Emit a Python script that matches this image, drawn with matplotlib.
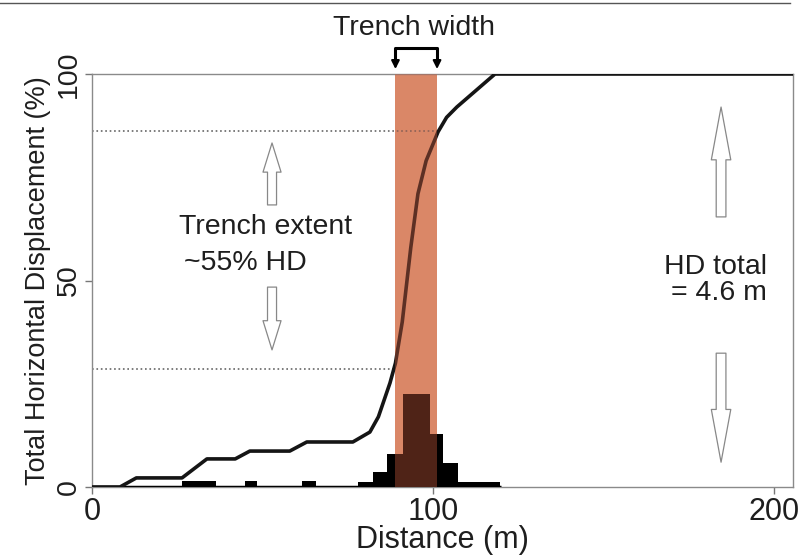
import matplotlib
matplotlib.use('Agg')
import matplotlib.pyplot as plt
from matplotlib.patches import FancyArrowPatch, ArrowStyle
from matplotlib.lines import Line2D

plt.rcParams['font.family'] = ['Liberation Sans', 'DejaVu Sans']

# cumulative horizontal displacement along the profile
dist = [0, 8.2, 13, 26.4, 33.7, 42, 46.3, 58, 63, 76.5, 81.5, 84, 87.4, 89,
        91, 93.5, 95.6, 98, 101.5, 104, 107, 118.2, 205.6]
cum_hd = [0, 0, 2.2, 2.2, 6.8, 6.8, 8.7, 8.7, 10.9, 10.9, 13.3, 17, 25.2, 30,
          40, 58, 71, 79, 86, 89.5, 92, 100, 100]

# displacement histogram (bin left edge, width, height)
bin_left = [26.5, 44.8, 61.6, 78, 82.4, 86.5, 91.2, 99.1, 102.9, 107.3]
bin_width = [10, 3.6, 4, 4.4, 4.1, 4.7, 7.9, 3.8, 4.4, 12.3]
bin_height = [1.5, 1.5, 1.5, 1.2, 3.6, 8, 22.5, 12.8, 5.8, 1.2]

trench = (89, 101.2)
extent_top, extent_bot = 86.2, 28.6
extent_top_x, extent_bot_x = 101.5, 88.5

fig = plt.figure(figsize=(8.08, 5.6), dpi=100, facecolor='white')
ax = fig.add_axes([92 / 808, 73 / 560, 701 / 808, 413 / 560])

# trench band: light base underneath, reddish wash on top of the marks
ax.axvspan(*trench, color='#e6a585', lw=0, zorder=1)

ax.bar(bin_left, bin_height, width=bin_width, align='edge', color='black',
       lw=0, zorder=3)
ax.hlines(0, 0, 120, color='black', lw=2.5, zorder=3)
ax.plot(dist, cum_hd, color='#151515', lw=2.6, zorder=4,
        solid_joinstyle='round')

ax.axvspan(*trench, color='#c85a3c', alpha=0.4, lw=0, zorder=5)

ax.hlines(extent_top, 0, extent_top_x, color='#666', lw=1.2, ls=':', zorder=2)
ax.hlines(extent_bot, 0, extent_bot_x, color='#666', lw=1.2, ls=':', zorder=2)


def block_arrow(x, y0, y1, head_len, head_w, tail_w):
    style = ArrowStyle('Simple', head_length=head_len, head_width=head_w,
                       tail_width=tail_w)
    ax.add_patch(FancyArrowPatch((x, y0), (x, y1), arrowstyle=style,
                                 mutation_scale=1, fc='white', ec='#888',
                                 lw=0.9, shrinkA=0, shrinkB=0, zorder=6))


block_arrow(52.8, 68.3, 83.3, 21, 13, 6.5)
block_arrow(52.8, 48.4, 33.2, 21, 13, 6.5)
block_arrow(184.5, 65.4, 92, 38, 14, 7)
block_arrow(184.5, 32.4, 6, 38, 14, 7)

ax.text(25.5, 66.2, 'Trench extent', fontsize=20.5, color='#1e1e1e',
        ha='left', va='top', zorder=7)
ax.text(27, 57.5, '~55% HD', fontsize=20.5, color='#1e1e1e', ha='left',
        va='top', zorder=7)
ax.text(198, 56.5, 'HD total\n= 4.6 m', fontsize=20.5, color='#1e1e1e',
        ha='right', va='top', linespacing=1.0, multialignment='right',
        zorder=7)

# trench width bracket above the frame
ax.plot([trench[0], trench[0], trench[1], trench[1]],
        [103.5, 106.3, 106.3, 103.5], color='black', lw=2.2,
        clip_on=False, zorder=7)
for xb in trench:
    ax.annotate('', xy=(xb, 101.2), xytext=(xb, 104.5),
                arrowprops=dict(arrowstyle='-|>', color='black', lw=1.5,
                                mutation_scale=12, shrinkA=0, shrinkB=0),
                annotation_clip=False)
ax.text(94.3, 111.2, 'Trench width', fontsize=20.5, color='#1e1e1e',
        ha='center', va='center', clip_on=False)

ax.set_xlim(0, 205.6)
ax.set_ylim(0, 100)
ax.set_xticks([0, 100, 200])
ax.set_yticks([0, 50, 100])
ax.tick_params(axis='x', labelsize=22, length=5, width=1, color='#777',
               pad=2, labelcolor='#1e1e1e')
ax.tick_params(axis='y', labelsize=20.5, length=5, width=1, color='#777',
               pad=2, labelrotation=90, labelcolor='#1e1e1e')
for lbl in ax.get_yticklabels():
    lbl.set_va('center')
for side in ['left', 'right', 'top', 'bottom']:
    ax.spines[side].set_color('#8a8a8a')
    ax.spines[side].set_linewidth(1.0)

ax.set_xlabel('Distance (m)', fontsize=22, color='#1e1e1e', labelpad=-1)
ax.set_ylabel('Total Horizontal Displacement (%)', fontsize=19.5,
              color='#1e1e1e', labelpad=4)

fig.add_artist(Line2D([0, 790 / 808], [1 - 3 / 560, 1 - 3 / 560],
                      color='#555', lw=1.0))

fig.savefig('out.png', dpi=100, facecolor='white')
